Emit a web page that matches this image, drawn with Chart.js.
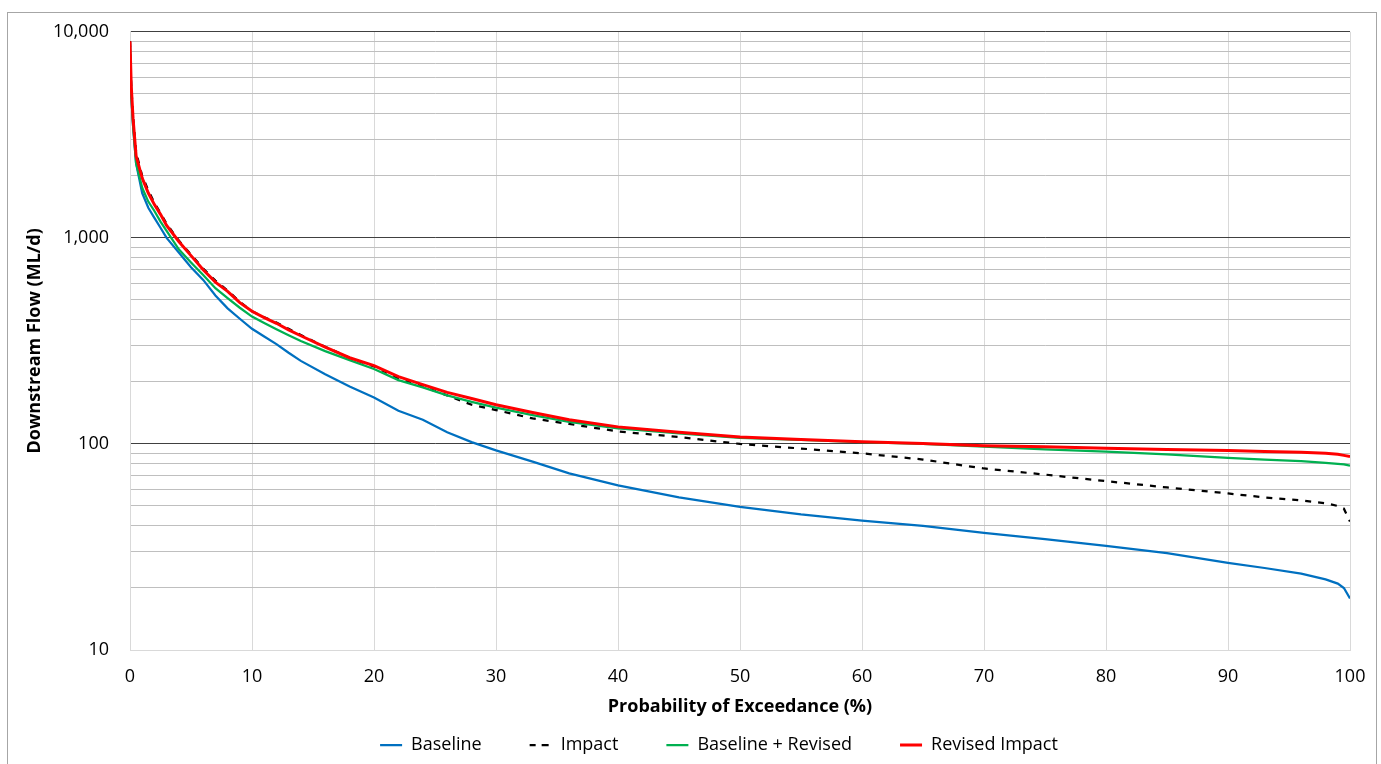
<!DOCTYPE html>
<html>
<head>
<meta charset="utf-8">
<script src="https://cdn.jsdelivr.net/npm/chart.js@4/dist/chart.umd.min.js"></script>
<style>
  html, body { margin: 0; padding: 0; background: #fff; }
  #wrap { width: 1381px; height: 764px; }
</style>
</head>
<body>
<div id="wrap"><canvas id="graphique-debit"></canvas></div>
<script>
// probabilite de depassement (%)
const probability = [0, 0.1, 0.25, 0.5, 1, 1.5, 2, 2.5, 3, 4, 5, 6, 7, 8, 9, 10, 11, 12, 13, 14, 16, 18, 20,
  22, 24, 26, 28, 30, 33, 36, 40, 45, 50, 55, 60, 65, 70, 75, 80, 85, 90, 93, 96, 98, 99, 99.5, 100];

// debit aval (ML/d)
const baseline = [9000, 5000, 3500, 2300, 1650, 1400, 1250, 1120, 1000, 850, 720, 625, 525, 455, 405, 362,
  332, 305, 277, 253, 218, 190, 168, 145, 131, 114, 102, 93, 82, 72, 63, 55, 49.5, 45.5, 42.5, 40, 37, 34.5,
  32, 29.5, 26.5, 25, 23.5, 22, 21, 20, 17.8];
const impact = [9000, 5500, 3900, 2600, 2000, 1700, 1480, 1320, 1170, 970, 830, 710, 620, 555, 490, 440,
  412, 388, 362, 338, 296, 262, 238, 208, 190, 172, 155, 146, 133, 125, 115, 108, 100, 95, 90, 84, 76, 71,
  66, 61.5, 57.5, 55, 53.2, 51.5, 50, 48.5, 42];
const baselineRevised = [8500, 5000, 3500, 2300, 1750, 1500, 1350, 1200, 1080, 880, 760, 660, 570, 510, 458, 415,
  386, 360, 337, 316, 282, 255, 231, 204, 188, 172, 160, 150, 138, 128, 119, 112.5, 107, 104.5, 102, 100, 97, 94,
  91.8, 89, 85.5, 84, 82.5, 81, 80, 79.5, 78.5];
const revisedImpact = [9000, 5500, 3800, 2500, 1950, 1650, 1450, 1300, 1150, 960, 820, 700, 610, 550, 485, 440,
  410, 385, 358, 335, 295, 262, 240, 212, 194, 178, 166, 155, 142, 131, 121, 114, 108, 105, 102.5, 100.5, 98, 97,
  95.3, 94, 92.9, 92, 91, 90, 89, 88, 87];

const decades = [10, 100, 1000, 10000];
const xTickStep = 10;

const seriesNames = ['Baseline', 'Impact', 'Baseline + Revised', 'Revised Impact'];

// grille : decades + lignes secondaires 2..9
const yGrid = [];
decades.forEach((d, i) => {
  yGrid.push(d);
  if (i < decades.length - 1) {
    for (let k = 2; k <= 9; k++) yGrid.push(d * k);
  }
});

const toPoints = (vals) => probability.map((p, i) => ({ x: p, y: vals[i] }));

const FONT = "'Open Sans', sans-serif";
const GRID_LIGHT = '#d9d9d9';

// cadre exterieur + decalage de la legende
const cadre = {
  id: 'cadre',
  afterLayout(chart) {
    if (chart.legend) chart.legend.left -= 42;
  },
  beforeDraw(chart) {
    const ctx = chart.ctx;
    ctx.save();
    ctx.fillStyle = '#ffffff';
    ctx.fillRect(0, 0, chart.width, chart.height);
    ctx.strokeStyle = '#a6a6a6';
    ctx.lineWidth = 1;
    ctx.strokeRect(7.5, 12.5, 1369, chart.height + 20);
    ctx.restore();
  }
};

const ctx = document.getElementById('graphique-debit').getContext('2d');
new Chart(ctx, {
  type: 'line',
  data: {
    datasets: [
      { label: seriesNames[0], data: toPoints(baseline), borderColor: '#0070c0', backgroundColor: '#0070c0',
        borderWidth: 2.25, order: 4 },
      { label: seriesNames[1], data: toPoints(impact), borderColor: '#000000', backgroundColor: 'rgba(0,0,0,0)',
        borderWidth: 2.25, borderDash: [6, 7], order: 3 },
      { label: seriesNames[2], data: toPoints(baselineRevised), borderColor: '#00b050', backgroundColor: '#00b050',
        borderWidth: 2.25, order: 2 },
      { label: seriesNames[3], data: toPoints(revisedImpact), borderColor: '#ff0000', backgroundColor: '#ff0000',
        borderWidth: 3, order: 1 }
    ]
  },
  options: {
    responsive: true,
    maintainAspectRatio: false,
    animation: false,
    layout: { padding: { left: 10, right: 31, top: 30, bottom: 0 } },
    elements: { point: { radius: 0 }, line: { tension: 0 } },
    scales: {
      x: {
        type: 'linear',
        min: 0,
        max: 100,
        ticks: { stepSize: xTickStep, color: '#000', font: { family: FONT, size: 18, lineHeight: 2 }, padding: 9 },
        grid: { color: GRID_LIGHT, drawTicks: false },
        border: { color: GRID_LIGHT },
        title: { display: true, text: 'Probability of Exceedance (%)', color: '#000',
          font: { family: FONT, size: 18, weight: 'bold' }, padding: { top: 0, bottom: -30 } },
        afterFit: (scale) => { scale.height = 38; }
      },
      y: {
        type: 'logarithmic',
        min: 10,
        max: 10000,
        afterBuildTicks: (scale) => { scale.ticks = yGrid.map(v => ({ value: v })); },
        ticks: {
          autoSkip: false,
          color: '#000',
          font: { family: FONT, size: 18 },
          padding: 21,
          callback: (v) => decades.includes(v) ? v.toLocaleString('en-US') : ''
        },
        grid: {
          drawTicks: false,
          color: (c) => {
            const v = c.tick && c.tick.value;
            if (v === 10) return GRID_LIGHT;
            return decades.includes(v) ? '#404040' : '#bfbfbf';
          }
        },
        border: { color: GRID_LIGHT },
        title: { display: true, text: 'Downstream Flow (ML/d)', color: '#000',
          font: { family: FONT, size: 18, weight: 'bold' }, padding: { top: 14, bottom: 0 } },
        afterFit: (scale) => { scale.width = 120; }
      }
    },
    plugins: {
      legend: {
        position: 'bottom',
        fullSize: false,
        labels: {
          boxWidth: 22,
          boxHeight: 0,
          padding: 48,
          color: '#000',
          font: { family: FONT, size: 18 },
          sort: (a, b) => a.datasetIndex - b.datasetIndex
        }
      },
      tooltip: { enabled: false }
    }
  },
  plugins: [cadre]
});
</script>
</body>
</html>
